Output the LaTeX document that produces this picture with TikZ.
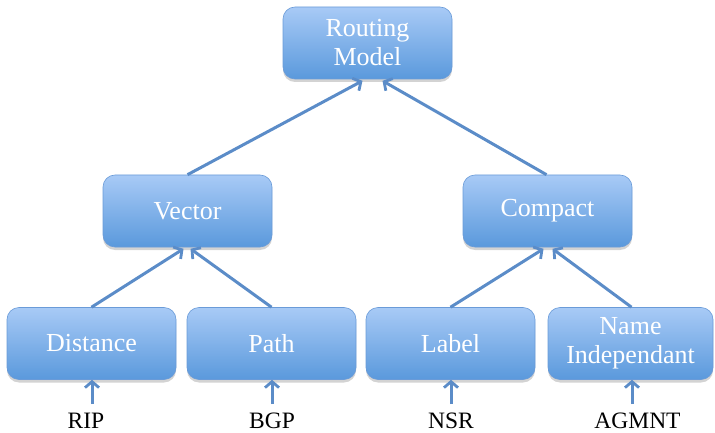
\documentclass[tikz,border=0pt]{standalone}
\usepackage{fontspec}
\setmainfont{Liberation Serif}
\usetikzlibrary{arrows.meta,shadows,calc}
\definecolor{boxtop}{HTML}{A8CAF6}
\definecolor{boxbot}{HTML}{5A99DC}
\definecolor{boxline}{HTML}{6A9BD8}
\definecolor{conn}{HTML}{5B8CC8}
\begin{document}
\begin{tikzpicture}[x=1pt,y=-1pt,
  box/.style={rounded corners=12pt, minimum width=169pt, minimum height=72pt,
    draw=boxline, line width=0.6pt, top color=boxtop, bottom color=boxbot,
    text=white, font=\fontsize{26}{29}\selectfont, align=center,
    drop shadow={opacity=0.35, shadow xshift=0pt, shadow yshift=-3pt}},
  conn/.style={draw=conn, line width=3pt, -{Straight Barb[length=6pt,width=14pt,line width=2.8pt]}},
  leaf/.style={font=\fontsize{23.5}{27}\selectfont, anchor=base, text=black, inner sep=0pt}]
\useasboundingbox (0,0) rectangle (715,433);
\node[box] (routing) at (367.5,43) {Routing\\Model};
\node[box] (vector) at (187.5,211) {Vector};
\node[box] (compact) at (547.5,211) {Compact};
\node[box] (distance) at (91.5,343.5) {Distance};
\node[box] (path) at (271.5,343.5) {Path};
\node[box] (label) at (450.5,343.5) {Label};
\node[box, minimum width=165pt] (name) at (630.5,343.5) {Name\\Independant};

\node[leaf] (rip) at (86,428) {RIP};
\node[leaf] (bgp) at (272,428) {BGP};
\node[leaf] (nsr) at (451,428) {NSR};
\node[leaf] (agmnt) at (637.5,428) {AGMNT};

\coordinate (ript) at (92,404);
\coordinate (bgpt) at (272,404);
\coordinate (nsrt) at (451,404);
\coordinate (agmntt) at (632,404);

\draw[conn] ($(vector.north)+(0,0)$) -- ($(routing.south)+(-5,1.5)$);
\draw[conn] ($(compact.north)+(-1,0)$) -- ($(routing.south)+(15,1.5)$);
\draw[conn] (distance.north) -- ($(vector.south)+(-4,1.5)$);
\draw[conn] (path.north) -- ($(vector.south)+(3,1.5)$);
\draw[conn] (label.north) -- ($(compact.south)+(-4,1.5)$);
\draw[conn] ($(name.north)+(1,0)$) -- ($(compact.south)+(5,1.5)$);

\draw[conn] (ript) -- (distance.south -| ript);
\draw[conn] (bgpt) -- (path.south -| bgpt);
\draw[conn] (nsrt) -- (label.south -| nsrt);
\draw[conn] (agmntt) -- (name.south -| agmntt);
\end{tikzpicture}
\end{document}
